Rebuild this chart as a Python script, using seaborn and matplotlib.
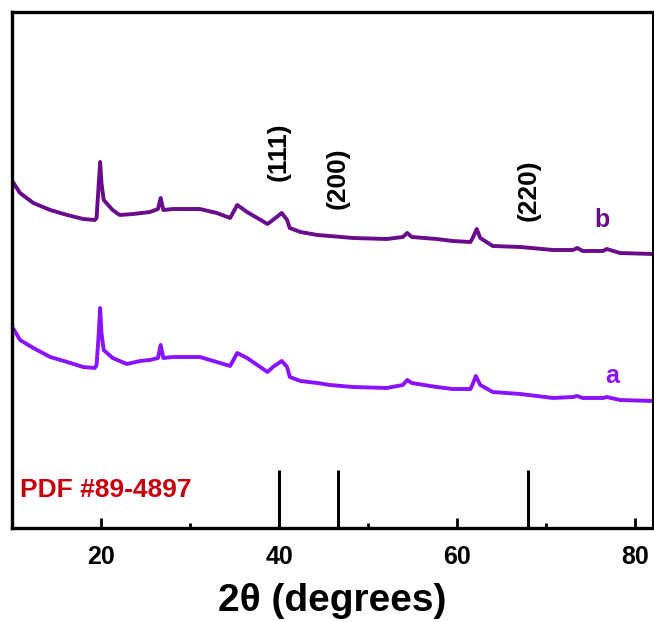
import matplotlib
matplotlib.use("Agg")
import matplotlib.pyplot as plt
import numpy as np
import pandas as pd
import seaborn as sns

# 2theta positions and intensities (arb. units)
two_theta_b = [10.1, 10.9, 12.4, 14.3, 16.2, 18.0, 19.3, 19.5, 19.75, 19.9, 20.05, 20.3,
               21.3, 22.1, 23.6, 25.5, 26.4, 26.7, 27.0, 28.1, 31.1, 33.0, 34.5, 35.3,
               36.4, 38.7, 39.3, 40.3, 40.9, 41.2, 42.4, 44.3, 45.7, 48.3, 52.1, 53.9,
               54.4, 54.9, 57.7, 59.5, 61.5, 61.8, 62.2, 62.6, 64.0, 67.1, 70.8, 73.0,
               73.5, 74.1, 76.4, 76.8, 78.3, 82.0]
intensity_b = [346, 335, 325, 318, 313, 309, 308, 310, 345, 366, 345, 328,
               318, 313, 314, 316, 319, 330, 318, 319, 319, 315, 310, 323,
               316, 304, 308, 315, 308, 300, 296, 293, 292, 290, 289, 291,
               295, 291, 289, 287, 286, 291, 299, 290, 282, 281, 278, 278,
               280, 277, 277, 279, 275, 274]

two_theta_a = [10.1, 10.9, 12.4, 14.3, 16.2, 18.0, 19.3, 19.5, 19.75, 19.9, 20.05, 20.3,
               21.3, 22.9, 24.4, 25.5, 26.4, 26.7, 27.0, 28.1, 31.1, 33.0, 34.5, 35.3,
               36.4, 38.7, 39.3, 40.3, 40.9, 41.2, 42.4, 44.3, 45.7, 48.3, 52.1, 53.9,
               54.4, 54.9, 57.7, 59.5, 61.5, 61.8, 62.1, 62.6, 64.0, 67.1, 70.8, 73.0,
               73.5, 74.1, 76.4, 76.8, 78.3, 82.0]
intensity_a = [200, 188, 180, 171, 166, 161, 160, 163, 195, 220, 195, 178,
               170, 164, 167, 168, 170, 183, 170, 171, 171, 166, 162, 175,
               170, 156, 161, 167, 161, 151, 147, 145, 143, 141, 140, 143,
               148, 145, 141, 139, 139, 145, 152, 143, 136, 134, 130, 131,
               132, 130, 130, 131, 128, 127]

# reference pattern PDF #89-4897
ref_positions = [40.0, 46.6, 68.0]
ref_heights = [58, 58, 58]
ref_hkl = ["(111)", "(200)", "(220)"]
hkl_label_y = [376, 350, 338]

color_a = "#8A12FF"
color_b = "#690C8C"

df = pd.concat([
    pd.DataFrame({"two_theta": two_theta_a, "intensity": intensity_a, "sample": "a"}),
    pd.DataFrame({"two_theta": two_theta_b, "intensity": intensity_b, "sample": "b"}),
])

sns.set_style("ticks")
plt.rcParams["font.family"] = ["Liberation Sans", "DejaVu Sans"]
plt.rcParams["text.color"] = "black"
plt.rcParams["axes.labelcolor"] = "black"
plt.rcParams["xtick.color"] = "black"
plt.rcParams["axes.edgecolor"] = "black"

fig = plt.figure(figsize=(6.54, 6.22), dpi=100)
ax = fig.add_axes([12 / 654, 94 / 622, 641 / 654, 516 / 622])

sns.lineplot(data=df, x="two_theta", y="intensity", hue="sample",
             palette={"a": color_a, "b": color_b}, linewidth=2.8,
             legend=False, ax=ax, sort=False)

ax.vlines(ref_positions, 0, ref_heights, color="black", linewidth=2.2)
for pos, lab, yy in zip(ref_positions, ref_hkl, hkl_label_y):
    ax.text(pos, yy, lab, rotation=90, ha="center", va="center",
            fontsize=19, fontweight="bold", color="black")

ax.text(10.9, 38, "PDF #89-4897", color="#C8000A", fontsize=19,
        fontweight="bold", ha="left", va="center")
ax.text(76.3, 308, "b", color=color_b, fontsize=18, fontweight="bold",
        ha="center", va="center")
ax.text(77.4, 152, "a", color=color_a, fontsize=18, fontweight="bold",
        ha="center", va="center")

ax.set_xlim(10, 82)
ax.set_ylim(0, 516)
ax.set_xticks([20, 40, 60, 80])
ax.set_xticks([30, 50, 70], minor=True)
ax.set_yticks([])
ax.tick_params(axis="x", which="major", direction="in", length=7, width=2,
               labelsize=18, pad=12)
ax.tick_params(axis="x", which="minor", direction="in", length=3.5, width=2)
for lab in ax.get_xticklabels():
    lab.set_fontweight("bold")
ax.set_xlabel("2θ (degrees)", fontsize=28, fontweight="bold", labelpad=10)
ax.set_ylabel("")
for side in ["left", "bottom", "top"]:
    ax.spines[side].set_linewidth(2.4)
ax.spines["right"].set_linewidth(1.5)

fig.savefig("out.png", dpi=100)
